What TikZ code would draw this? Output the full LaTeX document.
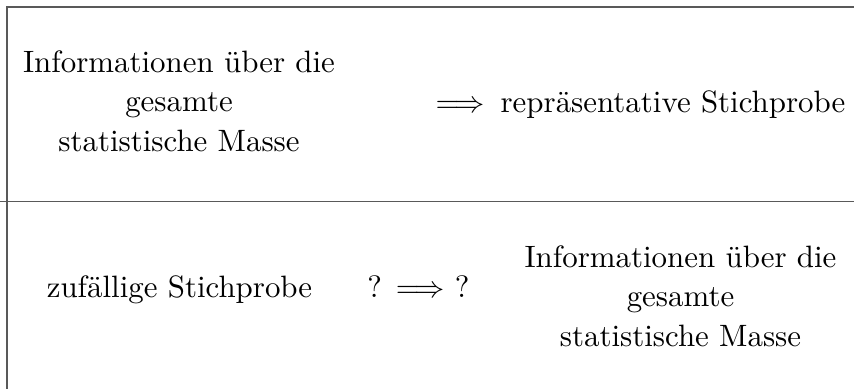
\documentclass[tikz,border=0pt]{standalone}
\usepackage{fontspec}
\begin{document}
\begin{tikzpicture}[x=0.33pt,y=-0.33pt]
\tikzset{
  rule/.style={draw=black!65,line width=0.5pt},
  txt/.style={inner sep=0pt,align=center,anchor=base,font=\fontsize{10.2}{13.2}\selectfont}
}
\useasboundingbox (0,0) rectangle (854,389);
\coordinate (tl) at (7,7);
\coordinate (tr) at (854,7);
\coordinate (bl) at (7,389);
\coordinate (ml) at (0,201.5);
\coordinate (mr) at (854,201.5);
\draw[rule] (tr) -- (tl) -- (bl);
\draw[rule] (ml) -- (mr);
\node[txt] (info1) at (179,152) {Informationen über die\\gesamte\\statistische Masse};
\node[txt] (arr1) at (460,113) {$\Longrightarrow$};
\node[txt] (rep) at (673,113) {repräsentative Stichprobe};
\node[txt] (zuf) at (179.5,297) {zufällige Stichprobe};
\node[txt] (arr2) at (418.5,297) {? $\Longrightarrow$ ?};
\node[txt] (info2) at (680.5,347) {Informationen über die\\gesamte\\statistische Masse};
\end{tikzpicture}
\end{document}
